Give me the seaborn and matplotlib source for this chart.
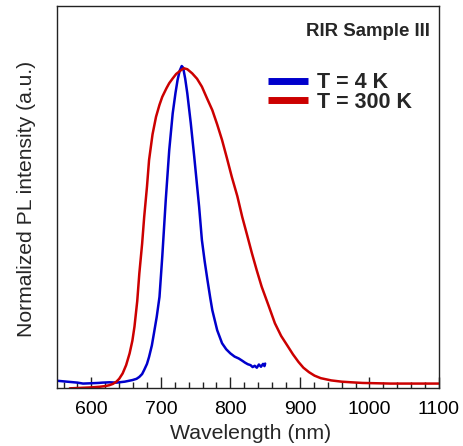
import matplotlib
matplotlib.use("Agg")
import matplotlib.pyplot as plt
from matplotlib.lines import Line2D
from matplotlib.ticker import MultipleLocator
import seaborn as sns
import pandas as pd

# ---- data ----
wl_4k = [550, 560, 570, 580, 588, 600, 610, 616, 626, 636, 648, 659, 665, 669, 673, 676,
         680, 683, 687, 690, 694, 698, 702, 707, 712, 717, 721, 724, 727, 730, 732, 735,
         738, 743, 748, 755, 759, 763, 767, 771, 774, 781, 788, 794, 800, 806, 812, 817,
         821, 825, 829, 832, 835, 838, 841, 844, 847, 849, 850]
pl_4k = [0.009, 0.007, 0.005, 0.003, 0.000, 0.001, 0.002, 0.003, 0.004, 0.003, 0.006, 0.011,
         0.015, 0.021, 0.030, 0.043, 0.062, 0.084, 0.120, 0.158, 0.210, 0.273, 0.400, 0.578,
         0.735, 0.851, 0.915, 0.956, 0.985, 1.000, 0.995, 0.960, 0.914, 0.820, 0.714, 0.557,
         0.452, 0.385, 0.326, 0.270, 0.231, 0.168, 0.127, 0.108, 0.095, 0.085, 0.079, 0.072,
         0.066, 0.061, 0.058, 0.052, 0.056, 0.050, 0.060, 0.053, 0.062, 0.055, 0.063]

wl_300k = [569, 580, 590, 600, 612, 620, 626, 631, 636, 640, 645, 650, 655, 659, 662, 666,
           669, 673, 676, 680, 683, 688, 693, 698, 702, 708, 712, 717, 722, 729, 733, 738,
           745, 752, 759, 766, 774, 781, 788, 795, 802, 810, 817, 824, 831, 838, 845, 855,
           864, 873, 883, 890, 898, 905, 913, 921, 930, 945, 960, 974, 990, 1010, 1030, 1050,
           1070, 1090, 1100]
pl_300k = [-0.015, -0.014, -0.013, -0.012, -0.010, -0.008, -0.005, -0.001, 0.006, 0.015,
           0.032, 0.058, 0.095, 0.135, 0.179, 0.260, 0.347, 0.440, 0.525, 0.620, 0.704,
           0.785, 0.840, 0.878, 0.903, 0.930, 0.946, 0.961, 0.975, 0.987, 0.993, 0.990,
           0.977, 0.960, 0.935, 0.900, 0.861, 0.816, 0.767, 0.710, 0.651, 0.590, 0.525,
           0.468, 0.410, 0.356, 0.305, 0.245, 0.190, 0.150, 0.116, 0.092, 0.068, 0.050,
           0.036, 0.025, 0.017, 0.010, 0.006, 0.004, 0.002, 0.001, 0.000, 0.000, 0.000,
           0.000, 0.000]

labels = ["T = 4 K", "T = 300 K"]
colors = ["#0000CC", "#CC0000"]
x_ticks = [600, 700, 800, 900, 1000, 1100]

df = pd.concat([
    pd.DataFrame({"wl": wl_4k, "pl": pl_4k, "T": labels[0]}),
    pd.DataFrame({"wl": wl_300k, "pl": pl_300k, "T": labels[1]}),
], ignore_index=True)

sns.set_style("ticks")
plt.rcParams["font.family"] = ["Liberation Sans", "DejaVu Sans"]

fig = plt.figure(figsize=(4.64, 4.46), dpi=100)
ax = fig.add_axes([0.122, 0.130, 0.824, 0.8565])

sns.lineplot(data=df, x="wl", y="pl", hue="T", palette=dict(zip(labels, colors)),
             sort=False, estimator=None, legend=False, ax=ax, linewidth=1.8)

ax.set_xlim(550, 1100)
ax.set_ylim(-0.014, 1.189)
ax.set_xticks(x_ticks)
ax.set_xticklabels([str(t) for t in x_ticks])
ax.xaxis.set_minor_locator(MultipleLocator(20))
ax.set_yticks([])
ax.tick_params(axis="x", which="major", direction="in", length=8, width=1,
               labelsize=14, pad=9, colors="#222222", labelcolor="black")
ax.tick_params(axis="x", which="minor", direction="in", length=4.5, width=1, colors="#222222")
for sp in ax.spines.values():
    sp.set_visible(True)
    sp.set_color("#222222")
    sp.set_linewidth(1.0)

ax.set_xlabel("Wavelength (nm)", fontsize=15.3, va="center")
ax.set_ylabel("Normalized PL intensity (a.u.)", fontsize=15.2, va="center")
ax.xaxis.set_label_coords(0.507, -0.119)
ax.yaxis.set_label_coords(-0.0785, 0.496)

ax.text(0.976, 0.922, "RIR Sample III", transform=ax.transAxes, ha="right",
        va="baseline", fontsize=13.4, fontweight="bold")

handles = [Line2D([], [], color=c, lw=5, solid_capstyle="butt") for c in colors]
ax.legend(handles, labels, loc="upper left", bbox_to_anchor=(0.553, 0.826),
          frameon=False, borderpad=0, borderaxespad=0, handlelength=1.86,
          handletextpad=0.42, labelspacing=-0.08, prop={"size": 15.5, "weight": "bold"})

fig.savefig("out.png", dpi=100)
